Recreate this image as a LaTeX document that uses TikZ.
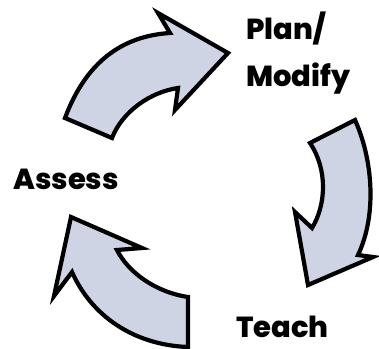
\documentclass[tikz,border=0pt]{standalone}
\usepackage{fontspec}
\setmainfont{Poppins}[BoldFont={Poppins ExtraBold}]
\definecolor{arrowfill}{HTML}{CED4E3}
\begin{document}
\begin{tikzpicture}[x=1pt,y=-1pt,
  cyclearrow/.style={draw=black, fill=arrowfill, line width=4.2pt, line join=miter, miter limit=10},
  lbl/.style={font=\fontsize{29}{32}\selectfont\bfseries, inner sep=0pt, anchor=base west}]
\useasboundingbox (0,0) rectangle (379,348);
% top arrow: Assess -> Plan/Modify
\path[cyclearrow] (65,118) .. controls (86,62) and (122,36) .. (170,33)
  -- (158,13) -- (228,53) -- (175,110) -- (178,88)
  .. controls (150,92) and (122,112) .. (112,138) -- cycle;
% right arrow: Plan/Modify -> Teach
\path[cyclearrow] (355,120) .. controls (373,160) and (377,215) .. (358,255)
  -- (373,257) -- (308,285) -- (295,212) -- (312,228)
  .. controls (326,205) and (328,170) .. (310,143) -- cycle;
% bottom arrow: Teach -> Assess
\path[cyclearrow] (188,297) .. controls (155,292) and (128,272) .. (117,250)
  -- (142,248) -- (71,217) -- (54,296) -- (72,272)
  .. controls (92,317) and (135,345) .. (188,347) -- cycle;
\node[lbl] (plan) at (246,39) {Plan/};
\node[lbl] (modify) at (246,86) {Modify};
\node[lbl] (assess) at (13,189) {Assess};
\node[lbl] (teach) at (236,337) {Teach};
\end{tikzpicture}
\end{document}
